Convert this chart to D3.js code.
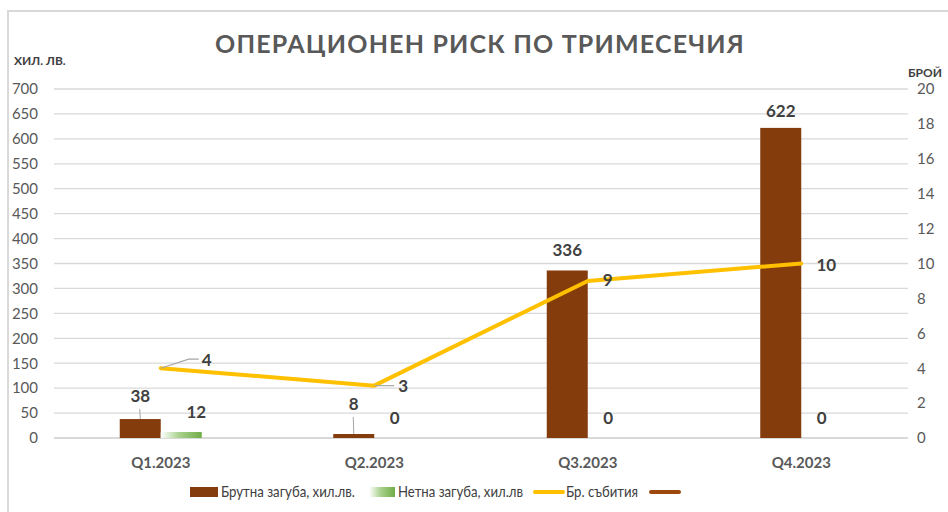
<!DOCTYPE html>
<html>
<head>
<meta charset="utf-8">
<script src="https://cdn.jsdelivr.net/npm/d3@7"></script>
<style>
  body { margin: 0; background: #fff; }
  svg { display: block; font-family: Lato, "Open Sans", sans-serif; }
</style>
</head>
<body>
<div id="chart"></div>
<script>
// data
var quarters = ["Q1.2023", "Q2.2023", "Q3.2023", "Q4.2023"];
var grossLoss = [38, 8, 336, 622];     // Брутна загуба, хил.лв.
var netLoss = [12, 0, 0, 0];           // Нетна загуба, хил.лв
var eventCount = [4, 3, 9, 10];        // Бр. събития
var leftTicks = [0, 50, 100, 150, 200, 250, 300, 350, 400, 450, 500, 550, 600, 650, 700];
var rightTicks = [0, 2, 4, 6, 8, 10, 12, 14, 16, 18, 20];

var svgWidth = 948, svgHeight = 512;
var margin = { top: 89, right: 40, bottom: 74, left: 54 };
var width = 908 - margin.left;
var height = 438 - margin.top;

var brown = "#843c0c", green = "#70ad47", yellow = "#ffc000";
var grid = "#d9d9d9", txt = "#595959", lbl = "#404040";

var svg = d3.select("#chart").append("svg")
  .attr("width", svgWidth)
  .attr("height", svgHeight);

var defs = svg.append("defs");
var grad = defs.append("linearGradient").attr("id", "netGrad")
  .attr("x1", "0%").attr("x2", "100%").attr("y1", "0%").attr("y2", "0%");
grad.append("stop").attr("offset", "0%").attr("stop-color", "#fff");
grad.append("stop").attr("offset", "45%").attr("stop-color", "#a9d18e");
grad.append("stop").attr("offset", "100%").attr("stop-color", green);

// chart frame
svg.append("rect")
  .attr("x", 8).attr("y", 11)
  .attr("width", 960).attr("height", 520)
  .attr("fill", "none").attr("stroke", grid).attr("stroke-width", 2);

// title
var title = svg.append("text")
  .attr("x", 480).attr("y", 53)
  .attr("text-anchor", "middle")
  .attr("font-size", "25px").attr("font-weight", "bold")
  .attr("fill", txt)
  .text("ОПЕРАЦИОНЕН РИСК ПО ТРИМЕСЕЧИЯ");
// stretch to the same width as the original title
var tl = title.node().getComputedTextLength();
title.attr("letter-spacing", ((530 - tl) / 30) + "px");

svg.append("text").attr("x", 14).attr("y", 65)
  .attr("font-size", "12px").attr("font-weight", "bold").attr("fill", lbl)
  .text("ХИЛ. ЛВ.");
svg.append("text").attr("x", 908).attr("y", 77)
  .attr("font-size", "12px").attr("font-weight", "bold").attr("fill", lbl)
  .text("БРОЙ");

var chartGroup = svg.append("g")
  .attr("transform", `translate(${margin.left}, ${margin.top})`);

// scales
var x0 = d3.scaleBand().domain(quarters).range([0, width]);
var x1 = d3.scaleBand().domain(["gross", "net"]).range([0, 82]);
var yLeft = d3.scaleLinear().domain([0, 700]).range([height, 0]);
var yRight = d3.scaleLinear().domain([0, 20]).range([height, 0]);

// gridlines
chartGroup.selectAll(".grid")
  .data(leftTicks)
  .enter()
  .append("line")
  .attr("x1", 0).attr("x2", width)
  .attr("y1", d => yLeft(d)).attr("y2", d => yLeft(d))
  .attr("stroke", grid)
  .attr("stroke-width", d => d === 0 ? 2 : 1.3);

// left axis
var leftAxis = d3.axisLeft(yLeft).tickValues(leftTicks).tickSize(0).tickPadding(16);
var la = chartGroup.append("g").call(leftAxis);
la.select(".domain").remove();
la.selectAll("text").attr("font-size", "15px").attr("fill", txt)
  .style("font-family", "Lato, sans-serif");

// right axis
var rightAxis = d3.axisRight(yRight).tickValues(rightTicks).tickSize(0).tickPadding(9);
var ra = chartGroup.append("g").attr("transform", `translate(${width}, 0)`).call(rightAxis);
ra.select(".domain").remove();
ra.selectAll("text").attr("font-size", "15px").attr("fill", txt)
  .style("font-family", "Lato, sans-serif");

// category axis
var bottomAxis = d3.axisBottom(x0).tickSize(0).tickPadding(19);
var ba = chartGroup.append("g").attr("transform", `translate(0, ${height})`).call(bottomAxis);
ba.select(".domain").remove();
ba.selectAll("text").attr("font-size", "15px").attr("font-weight", "bold").attr("fill", txt)
  .style("font-family", "Lato, sans-serif");

function groupX(q) { return x0(q) + x0.bandwidth() / 2 - 41; }

// bars
chartGroup.selectAll(".gross")
  .data(grossLoss)
  .enter()
  .append("rect")
  .attr("x", (d, i) => groupX(quarters[i]) + x1("gross"))
  .attr("y", d => yLeft(d))
  .attr("width", x1.bandwidth())
  .attr("height", d => height - yLeft(d))
  .attr("fill", brown);

chartGroup.selectAll(".net")
  .data(netLoss)
  .enter()
  .append("rect")
  .attr("x", (d, i) => groupX(quarters[i]) + x1("net"))
  .attr("y", d => yLeft(d))
  .attr("width", x1.bandwidth())
  .attr("height", d => height - yLeft(d))
  .attr("fill", "url(#netGrad)");

// bar labels (the first two were dragged up with leader lines)
var grossLift = [17, 24, 14, 11];
chartGroup.selectAll(".grossLbl")
  .data(grossLoss)
  .enter()
  .append("text")
  .attr("x", (d, i) => groupX(quarters[i]) + x1("gross") + x1.bandwidth() / 2)
  .attr("y", (d, i) => yLeft(d) - grossLift[i])
  .attr("text-anchor", "middle")
  .attr("font-size", "17px").attr("font-weight", "bold").attr("fill", lbl)
  .text(d => d);

[0, 1].forEach(function(i) {
  var cx = groupX(quarters[i]) + x1("gross") + x1.bandwidth() / 2;
  chartGroup.append("line")
    .attr("x1", cx).attr("x2", cx - 0.5)
    .attr("y1", yLeft(grossLoss[i]))
    .attr("y2", yLeft(grossLoss[i]) - grossLift[i] + 7)
    .attr("stroke", "#a6a6a6").attr("stroke-width", 1);
});

chartGroup.selectAll(".netLbl")
  .data(netLoss)
  .enter()
  .append("text")
  .attr("x", (d, i) => groupX(quarters[i]) + x1("net") + x1.bandwidth() / 2 + (d > 0 ? 15 : 0))
  .attr("y", d => yLeft(d) - 14)
  .attr("text-anchor", "middle")
  .attr("font-size", "17px").attr("font-weight", "bold").attr("fill", lbl)
  .text(d => d);

// events line
var line = d3.line()
  .x((d, i) => x0(quarters[i]) + x0.bandwidth() / 2)
  .y(d => yRight(d));

chartGroup.append("path")
  .datum(eventCount)
  .attr("d", line)
  .attr("fill", "none")
  .attr("stroke", yellow)
  .attr("stroke-width", 4)
  .attr("stroke-linejoin", "round")
  .attr("stroke-linecap", "round");

// line labels
var evDx = [46, 29, 20, 25];
var evDy = [-2, 6, 5, 7];
chartGroup.selectAll(".evLbl")
  .data(eventCount)
  .enter()
  .append("text")
  .attr("x", (d, i) => x0(quarters[i]) + x0.bandwidth() / 2 + evDx[i])
  .attr("y", (d, i) => yRight(d) + evDy[i])
  .attr("text-anchor", "middle")
  .attr("font-size", "17px").attr("font-weight", "bold").attr("fill", lbl)
  .text(d => d);

// leader lines for "4" and "3"
var p0x = x0(quarters[0]) + x0.bandwidth() / 2, p0y = yRight(eventCount[0]);
chartGroup.append("path")
  .attr("d", `M${p0x},${p0y} L${p0x + 28},${p0y - 9} L${p0x + 38},${p0y - 9}`)
  .attr("fill", "none").attr("stroke", "#a6a6a6").attr("stroke-width", 1.2);
var p1x = x0(quarters[1]) + x0.bandwidth() / 2, p1y = yRight(eventCount[1]);
chartGroup.append("path")
  .attr("d", `M${p1x},${p1y} L${p1x + 20},${p1y}`)
  .attr("fill", "none").attr("stroke", "#a6a6a6").attr("stroke-width", 1.2);

// legend
var legend = svg.append("g").attr("transform", "translate(0, 492)");
legend.append("rect").attr("x", 190).attr("y", -5).attr("width", 28).attr("height", 10).attr("fill", brown);
legend.append("text").attr("x", 221).attr("y", 5).attr("font-size", "15px").attr("fill", lbl)
  .attr("textLength", 134).attr("lengthAdjust", "spacingAndGlyphs")
  .text("Брутна загуба, хил.лв.");
legend.append("rect").attr("x", 369).attr("y", -5).attr("width", 26).attr("height", 10).attr("fill", "url(#netGrad)");
legend.append("text").attr("x", 398).attr("y", 5).attr("font-size", "15px").attr("fill", lbl)
  .attr("textLength", 125).attr("lengthAdjust", "spacingAndGlyphs")
  .text("Нетна загуба, хил.лв");
legend.append("line").attr("x1", 535).attr("x2", 563).attr("y1", 0).attr("y2", 0)
  .attr("stroke", yellow).attr("stroke-width", 4).attr("stroke-linecap", "round");
legend.append("text").attr("x", 566).attr("y", 5).attr("font-size", "15px").attr("fill", lbl)
  .attr("textLength", 72).attr("lengthAdjust", "spacingAndGlyphs")
  .text("Бр. събития");
legend.append("line").attr("x1", 651).attr("x2", 679).attr("y1", 0).attr("y2", 0)
  .attr("stroke", "#9e480e").attr("stroke-width", 4).attr("stroke-linecap", "round");
</script>
</body>
</html>
